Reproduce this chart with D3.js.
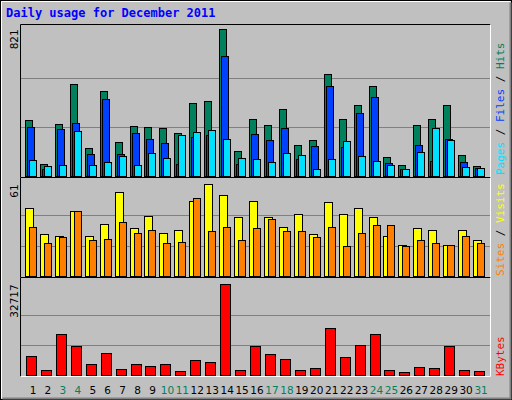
<!DOCTYPE html>
<html><head><meta charset="utf-8">
<script src="https://cdn.jsdelivr.net/npm/d3@7"></script>
<style>body{margin:0;background:#fff}</style>
</head><body>
<svg id="chart" width="512" height="400"></svg>
<script>
// Daily usage, December 2011
const days = d3.range(1, 32);
const weekends = [3, 4, 10, 11, 17, 18, 24, 25, 31];
const hits  = [313,67,290,514,156,475,190,279,274,268,240,408,419,821,140,318,285,374,173,201,570,318,397,503,106,61,285,318,397,117,56];
const files = [274,39,262,296,123,430,123,240,207,184,67,218,229,670,67,235,201,268,95,168,503,162,352,441,73,39,173,84,207,78,45];
const pages = [89,56,61,251,61,78,112,61,128,100,229,246,257,207,100,95,78,128,117,39,95,195,112,84,61,39,134,268,201,50,45];
const visits = [45,28,27,43,27,35,56,32,40,29,31,50,61,54,39,50,39,33,41,28,49,41,45,39,27,21,32,31,21,31,24];
const sites  = [33,22,26,43,24,25,36,29,31,22,23,52,30,33,24,32,38,30,30,26,33,20,29,34,34,20,24,22,21,27,22];
const kbytes = [6831,1798,14741,10426,3955,7910,2157,3955,3236,3955,1438,5393,4674,32717,1798,10426,7550,5752,1798,2517,16898,6472,10786,14741,1798,1079,2876,2517,10426,1798,1438];

const svg = d3.select('#chart');
const mono = 'DejaVu Sans Mono, monospace';

/* Frame */
svg.append('rect').attr('x', 0.5).attr('y', 0.5).attr('width', 511).attr('height', 399)
   .attr('fill', '#c0c0c0').attr('stroke', '#000');
svg.append('path').attr('d', 'M1.5,398.5V1.5H510.5').attr('fill', 'none').attr('stroke', '#fff');
svg.append('path').attr('d', 'M2.5,398.5H510.5V2.5').attr('fill', 'none').attr('stroke', '#808080').attr('stroke-width', 2);

svg.append('text').attr('x', 6).attr('y', 17)
   .attr('font-family', mono).attr('font-weight', 'bold').attr('font-size', 12)
   .attr('fill', '#0000ff').text('Daily usage for December 2011');

// X-Scale
const x = d3.scaleBand().domain(days).range([23, 486]).padding(0);

const panels = [
  {top: 24, bottom: 177, y: d3.scaleLinear().domain([0, 821]).range([176.3, 29.3]), max: '821'},
  {top: 177, bottom: 277, y: d3.scaleLinear().domain([0, 61]).range([276.3, 184.3]), max: '61'},
  {top: 277, bottom: 376, y: d3.scaleLinear().domain([0, 32717]).range([375.3, 284.3]), max: '32717'}
];

panels.forEach(p => {
  svg.append('rect').attr('x', 20.5).attr('y', p.top + 0.5).attr('width', 470).attr('height', p.bottom - p.top)
     .attr('fill', '#c0c0c0').attr('stroke', 'none');
  const d = p.y.domain()[1];
  [d / 3, 2 * d / 3].forEach(v => {
    svg.append('line').attr('x1', 21).attr('x2', 490).attr('y1', Math.round(p.y(v)) + 0.5).attr('y2', Math.round(p.y(v)) + 0.5)
       .attr('stroke', '#808080');
  });
  svg.append('path').attr('d', `M20.5,${p.bottom + 0.5}V${p.top + 0.5}H490.5`).attr('fill', 'none').attr('stroke', '#000');
  svg.append('path').attr('d', `M20.5,${p.bottom + 0.5}H490.5V${p.top + 0.5}`).attr('fill', 'none').attr('stroke', '#fff');
  svg.append('text').attr('transform', `translate(18,${p.y(d)}) rotate(-90)`)
     .attr('text-anchor', 'end').attr('font-family', 'DejaVu Sans, sans-serif').attr('font-size', 10.5)
     .attr('fill', '#000').text(p.max);
});

function bars(values, panel, offset, width, color) {
  const y = panels[panel].y;
  svg.append('g').selectAll('rect').data(values).join('rect')
     .attr('x', (v, i) => Math.round(x(days[i]) + offset) + 0.5)
     .attr('y', v => Math.round(y(v)) + 0.5)
     .attr('width', width)
     .attr('height', v => Math.round(y(0)) - Math.round(y(v)))
     .attr('fill', color).attr('stroke', '#000');
}

bars(hits, 0, 2, 7, '#00805c');
bars(files, 0, 4, 7, '#0040ff');
bars(pages, 0, 6, 7, '#00e0ff');
bars(visits, 1, 2, 8, '#ffff00');
bars(sites, 1, 6, 7, '#ff8000');
bars(kbytes, 2, 3, 10, '#ff0000');

// Day labels
svg.append('g').selectAll('text').data(days).join('text')
   .attr('x', d => x(d) + 10).attr('y', 394)
   .attr('text-anchor', 'middle').attr('font-family', 'DejaVu Sans, sans-serif').attr('font-size', 10.5)
   .attr('fill', d => weekends.includes(d) ? '#00805c' : '#000').text(d => d);

// Right-side legends (rotated)
function legend(parts, yBottom) {
  const t = svg.append('text').attr('transform', `translate(504,${yBottom}) rotate(-90)`)
     .attr('font-family', mono).attr('font-size', 11);
  parts.forEach(([s, c]) => t.append('tspan').attr('fill', c).text(s));
}
legend([['Pages', '#00e0ff'], [' / ', '#000'], ['Files', '#0040ff'], [' / ', '#000'], ['Hits', '#00805c']], 175);
legend([['Sites', '#ff8000'], [' / ', '#000'], ['Visits', '#ffff00']], 276);
legend([['KBytes', '#ff0000']], 376);
</script>
</body></html>
